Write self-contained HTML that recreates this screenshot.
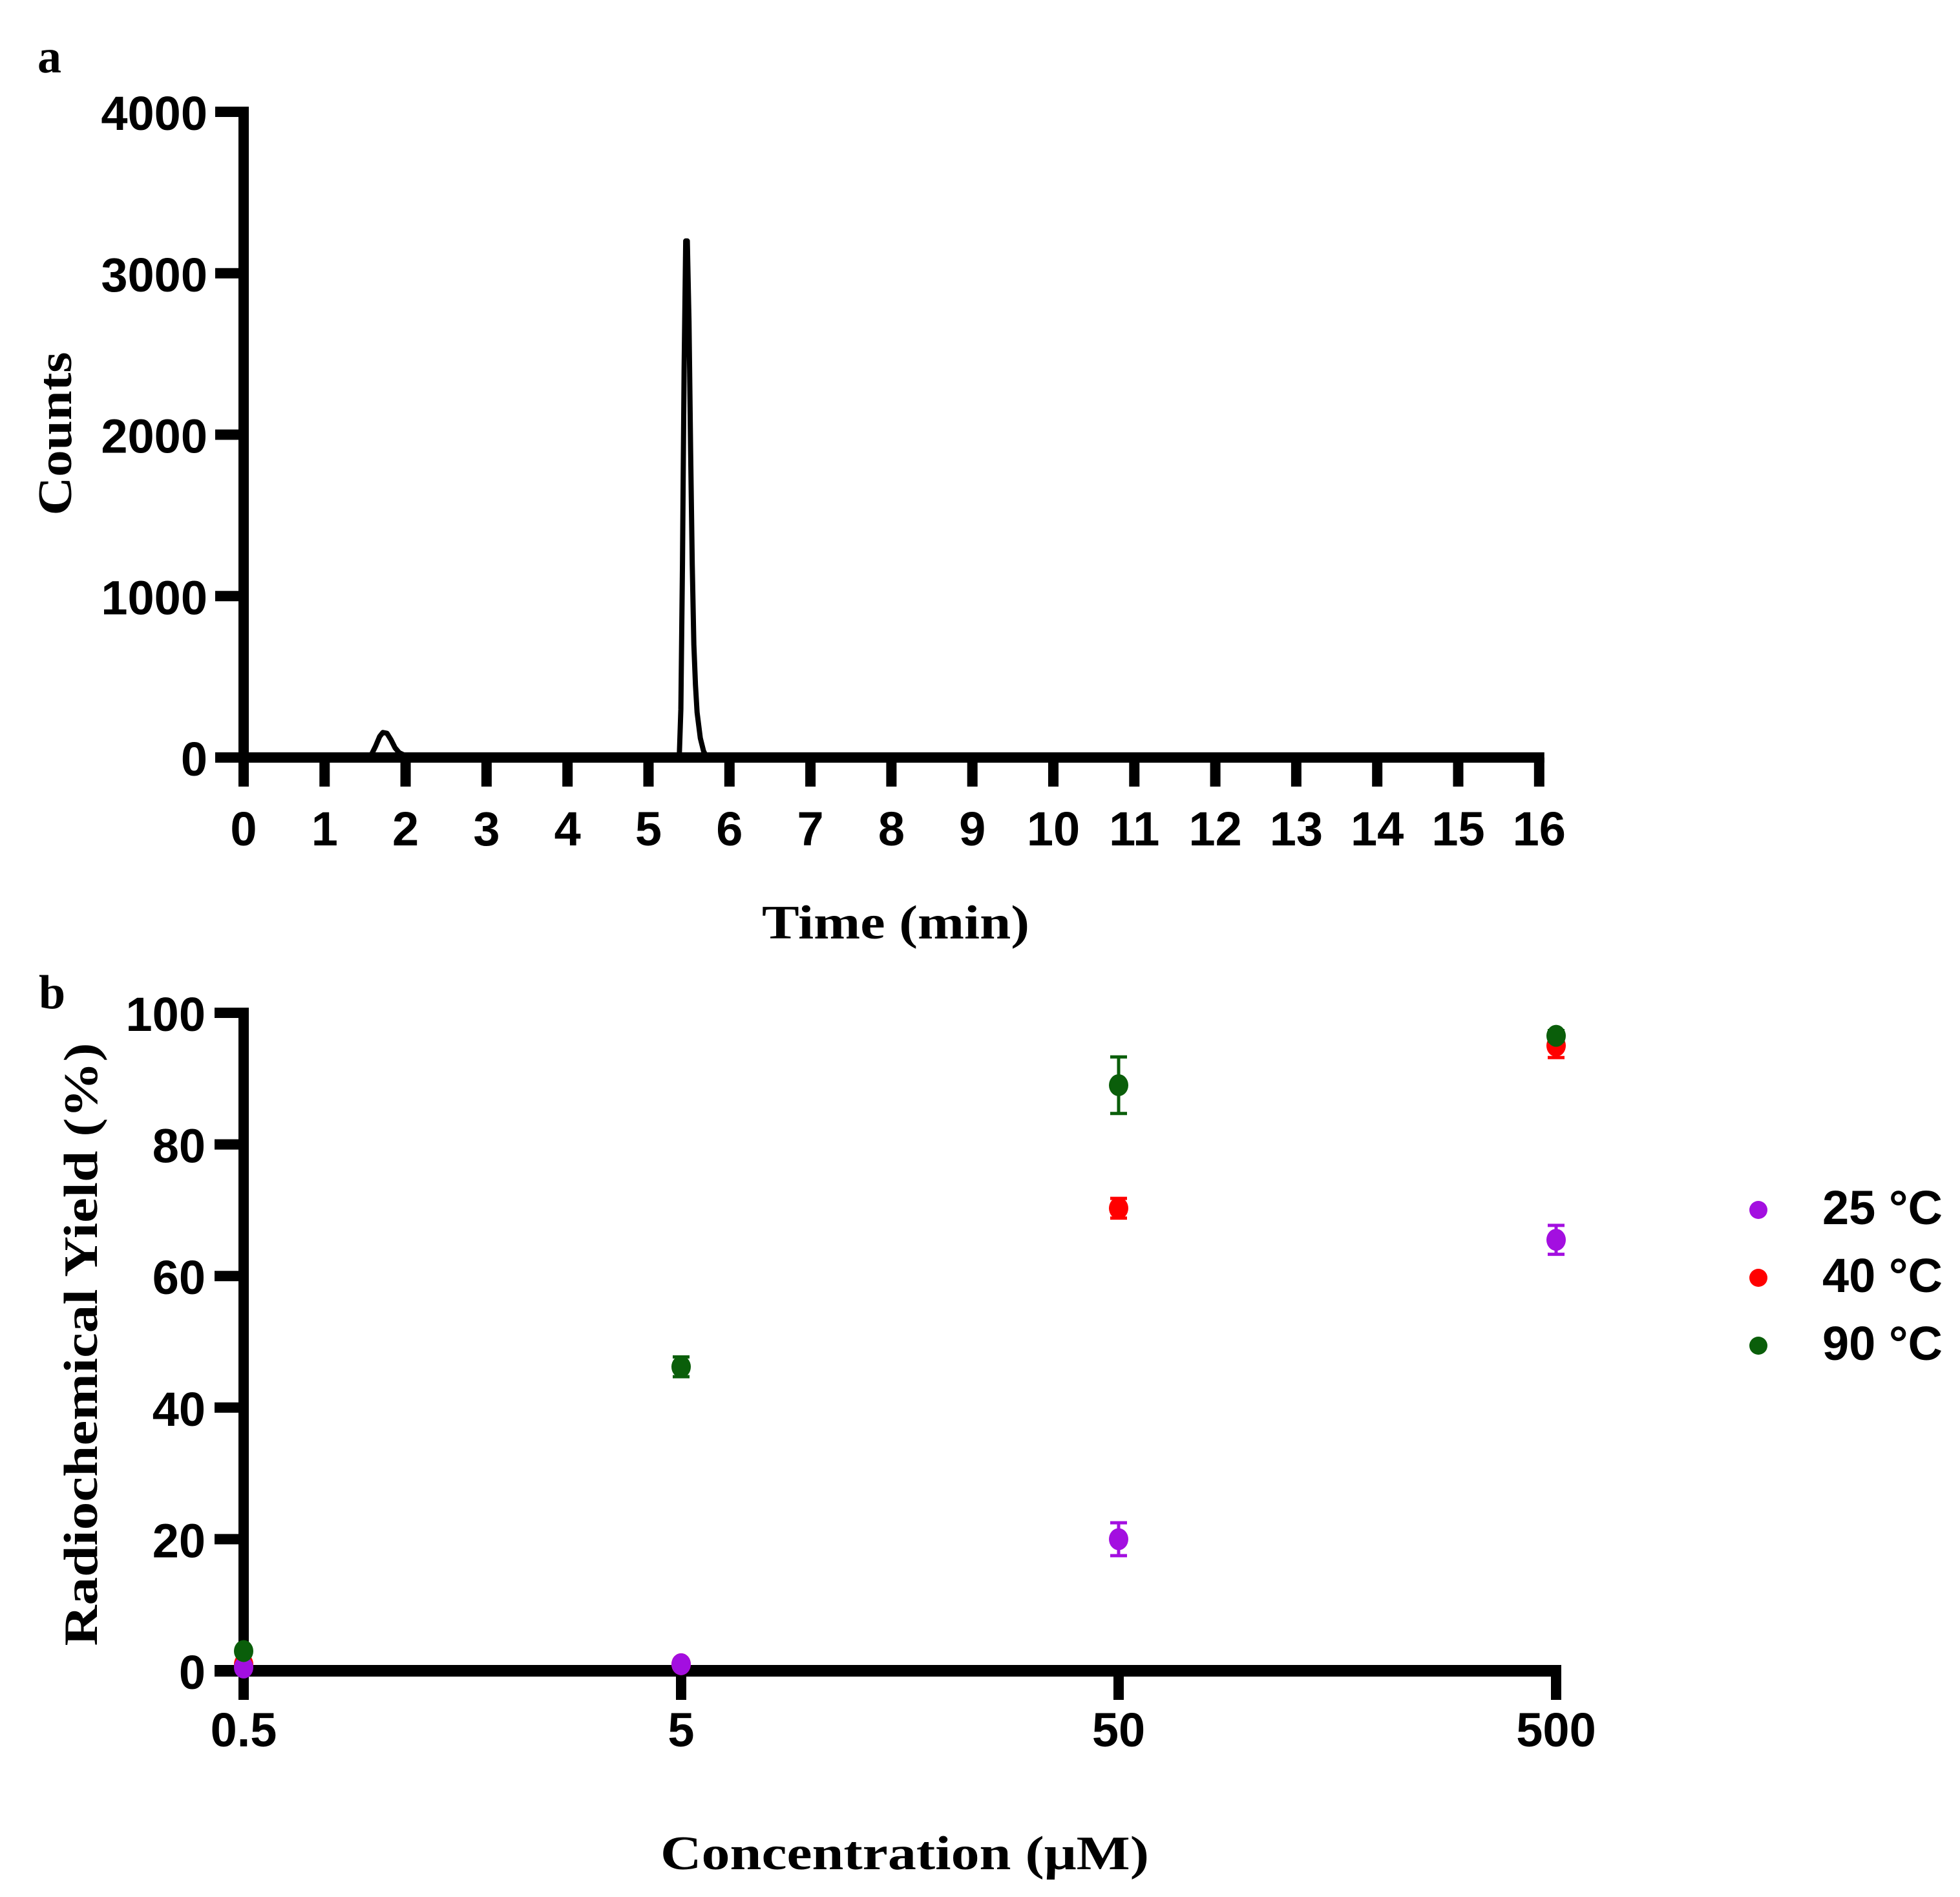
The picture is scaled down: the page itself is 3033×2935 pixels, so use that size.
<!DOCTYPE html>
<html><head><meta charset="utf-8"><style>
html,body{margin:0;padding:0;background:#fff;}
svg{display:block;}
.tk{font-family:"Liberation Sans",sans-serif;font-weight:bold;font-size:74px;fill:#000;}
.ti{font-family:"Liberation Serif",serif;font-weight:bold;font-size:74px;fill:#000;}
</style></head><body>
<svg id="chart" width="3033" height="2935" viewBox="0 0 3033 2935" xmlns="http://www.w3.org/2000/svg">
<g id="pa"></g>
<g id="pb"></g>
</svg>
<script>
// Panel a data
const timeVals = [0,1.5,1.58,1.63,1.68,1.72,1.77,1.82,1.87,1.92,1.97,2.05,2.15,2.3,4.4,4.5,4.6,5.38,5.40,5.42,5.44,5.46,5.48,5.50,5.52,5.54,5.56,5.58,5.60,5.64,5.68,5.72,5.8,6.0,16];
const countVals = [0,0,20,70,130,155,150,110,60,30,18,10,5,0,0,10,0,0,300,1200,2400,3200,3200,2700,1900,1200,700,450,280,120,40,0,10,0,0];
const aXTicks = [0,1,2,3,4,5,6,7,8,9,10,11,12,13,14,15,16];
const aYTicks = [0,1000,2000,3000,4000];
// Panel b data
const concCats = [0.5,5,50,500];
const concLabels = ["0.5","5","50","500"];
const bYTicks = [0,20,40,60,80,100];
const seriesNames = ["25 °C","40 °C","90 °C"];
const seriesColors = ["#a30fe0","#ff0000","#0a5e0a"];
const y25 = [0.5,1,20,65.5];
const e25 = [0,0,2.5,2.2];
const y40 = [1,1,70.3,95];
const e40 = [0,0,1.5,1.8];
const y90 = [3,46.2,89,96.5];
const e90 = [0,1.5,4.3,0.8];

const NS="http://www.w3.org/2000/svg";
function mk(parent,tag,attrs,text){const e=document.createElementNS(NS,tag);for(const k in attrs)e.setAttribute(k,attrs[k]);if(text!==undefined)e.textContent=text;parent.appendChild(e);return e;}

// ---- Panel a ----
const pa=document.getElementById('pa');
const ax=t=>377+t*125.3;
const ay=v=>1172-v*0.24975;
let el;
el=mk(pa,'text',{x:58,y:112,class:'ti','font-size':100},'a');


el=mk(pa,'line',{x1:377,y1:ay(4000)-8,x2:377,y2:1180,stroke:'#000','stroke-width':16});


el=mk(pa,'line',{x1:333,y1:1172,x2:ax(16)+8,y2:1172,stroke:'#000','stroke-width':16});


aYTicks.forEach(v=>{
  el=mk(pa,'line',{x1:333,y1:ay(v),x2:377,y2:ay(v),stroke:'#000','stroke-width':16});
  
  
  el=mk(pa,'text',{x:321,y:ay(v)+28,class:'tk','text-anchor':'end'},String(v));
  
  
});
aXTicks.forEach(t=>{
  el=mk(pa,'line',{x1:ax(t),y1:1172,x2:ax(t),y2:1217,stroke:'#000','stroke-width':16});
  
  
  el=mk(pa,'text',{x:ax(t),y:1308,class:'tk','text-anchor':'middle'},String(t));
  
  
});
let d='';timeVals.forEach((t,i)=>{d+=(i?'L':'M')+ax(t).toFixed(1)+','+ay(countVals[i]).toFixed(1);});
el=mk(pa,'path',{d:d,fill:'none',stroke:'#000','stroke-width':8,'stroke-linejoin':'round'});


el=mk(pa,'text',{x:1386,y:1452,class:'ti','text-anchor':'middle',textLength:414,lengthAdjust:'spacingAndGlyphs'},'Time (min)');


el=mk(pa,'text',{x:0,y:0,class:'ti','text-anchor':'middle',transform:'translate(110,671) rotate(-90)',textLength:253,lengthAdjust:'spacingAndGlyphs'},'Counts');



// ---- Panel b ----
const pb=document.getElementById('pb');
const bx=c=>377+Math.log10(c/0.5)*677;
const by=v=>2585-v*10.18;
el=mk(pb,'text',{x:60,y:1560,class:'ti','font-size':100},'b');


el=mk(pb,'line',{x1:377,y1:by(100)-8,x2:377,y2:2630,stroke:'#000','stroke-width':16});


el=mk(pb,'line',{x1:332,y1:2585,x2:bx(500)+8,y2:2585,stroke:'#000','stroke-width':18});


bYTicks.forEach(v=>{
  el=mk(pb,'line',{x1:332,y1:by(v),x2:377,y2:by(v),stroke:'#000','stroke-width':16});
  
  
  el=mk(pb,'text',{x:318,y:by(v)+28,class:'tk','text-anchor':'end'},String(v));
  
  
});
concCats.forEach((c,i)=>{
  el=mk(pb,'line',{x1:bx(c),y1:2585,x2:bx(c),y2:2630,stroke:'#000','stroke-width':16});
  
  
  el=mk(pb,'text',{x:bx(c),y:2702,class:'tk','text-anchor':'middle'},concLabels[i]);
  
  
});
const allY=[y25,y40,y90], allE=[e25,e40,e90];
const order=[1,0,2];
order.forEach(s=>{
  const col=seriesColors[s];
  concCats.forEach((c,i)=>{
    const x=bx(c),v=allY[s][i],e=allE[s][i];
    if(e>0){
      el=mk(pb,'path',{d:`M${x},${by(v+e)}V${by(v-e)}M${x-13},${by(v+e)}H${x+13}M${x-13},${by(v-e)}H${x+13}`,stroke:col,'stroke-width':5,fill:'none'});
      
      
    }
    el=mk(pb,'ellipse',{cx:x,cy:by(v),rx:15,ry:17,fill:col});
    
    
  });
});
seriesNames.forEach((n,i)=>{
  const yy=1872+i*105;
  el=mk(pb,'circle',{cx:2721,cy:yy,r:14,fill:seriesColors[i]});
  
  
  el=mk(pb,'text',{x:2820,y:yy+22,class:'tk','font-size':58},n);
  
  
});
el=mk(pb,'text',{x:1400,y:2892,class:'ti','text-anchor':'middle',textLength:756,lengthAdjust:'spacingAndGlyphs'},'Concentration (μM)');


el=mk(pb,'text',{x:0,y:0,class:'ti','text-anchor':'middle',transform:'translate(150,2080) rotate(-90)',textLength:933,lengthAdjust:'spacingAndGlyphs'},'Radiochemical Yield (%)');


</script>
</body></html>
